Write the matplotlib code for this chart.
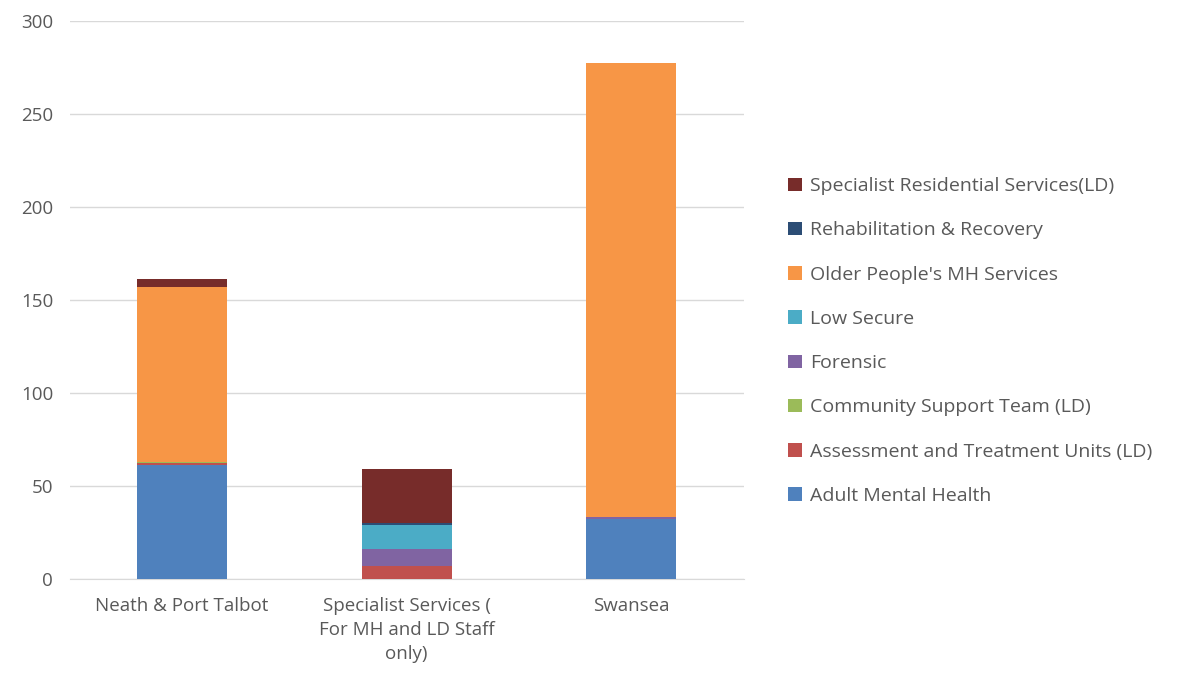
import matplotlib
matplotlib.use("Agg")
import numpy as np
import matplotlib.pyplot as plt

categories = ["Neath & Port Talbot", "Specialist Services (\nFor MH and LD Staff\nonly)", "Swansea"]

series_names = [
    "Adult Mental Health",
    "Assessment and Treatment Units (LD)",
    "Community Support Team (LD)",
    "Forensic",
    "Low Secure",
    "Older People's MH Services",
    "Rehabilitation & Recovery",
    "Specialist Residential Services(LD)",
]

adult_mh = [61, 0, 32]
assessment = [1, 7, 0]
community = [1, 0, 0]
forensic = [0, 9, 1]
low_secure = [0, 13, 0]
older_people = [94, 0, 244]
rehab = [0, 1, 0]
specialist_res = [4, 29, 0]

colors = ["#4F81BD", "#C0504D", "#9BBB59", "#8064A2",
          "#4BACC6", "#F79646", "#2C4D75", "#772C2A"]

plt.rcParams["font.family"] = ["Open Sans", "DejaVu Sans"]
text_col = "#595959"

fig = plt.figure(figsize=(11.84, 6.89), dpi=100)
ax = fig.add_axes([0.059, 0.16, 0.569, 0.81])

x = np.arange(len(categories))
bottom = np.zeros(len(categories))
handles = []
for name, vals, col in zip(series_names,
                           [adult_mh, assessment, community, forensic,
                            low_secure, older_people, rehab, specialist_res],
                           colors):
    h = ax.bar(x, vals, 0.4, bottom=bottom, color=col, label=name, zorder=3)
    handles.append(h)
    bottom += np.array(vals)

ax.set_xlim(-0.5, 2.5)
ax.set_ylim(0, 300)
ax.set_yticks(range(0, 301, 50))
ax.set_xticks(x)
ax.set_xticklabels(categories, linespacing=1.45)
ax.yaxis.grid(True, color="#D9D9D9", linewidth=1, zorder=0)
for s in ["top", "right", "left"]:
    ax.spines[s].set_visible(False)
ax.spines["bottom"].set_color("#D9D9D9")
ax.tick_params(axis="both", length=0, labelsize=13.5, colors=text_col)
ax.tick_params(axis="x", pad=13)
ax.tick_params(axis="y", pad=12)

# legend listed top-down in reverse stacking order
leg = fig.legend(handles[::-1], series_names[::-1], loc="center left",
                 bbox_to_anchor=(0.651, 0.505), frameon=False, fontsize=14,
                 labelspacing=1.35, handlelength=0.7, handleheight=0.7,
                 handletextpad=0.4)
for t in leg.get_texts():
    t.set_color(text_col)

fig.savefig("out.png", dpi=100)
